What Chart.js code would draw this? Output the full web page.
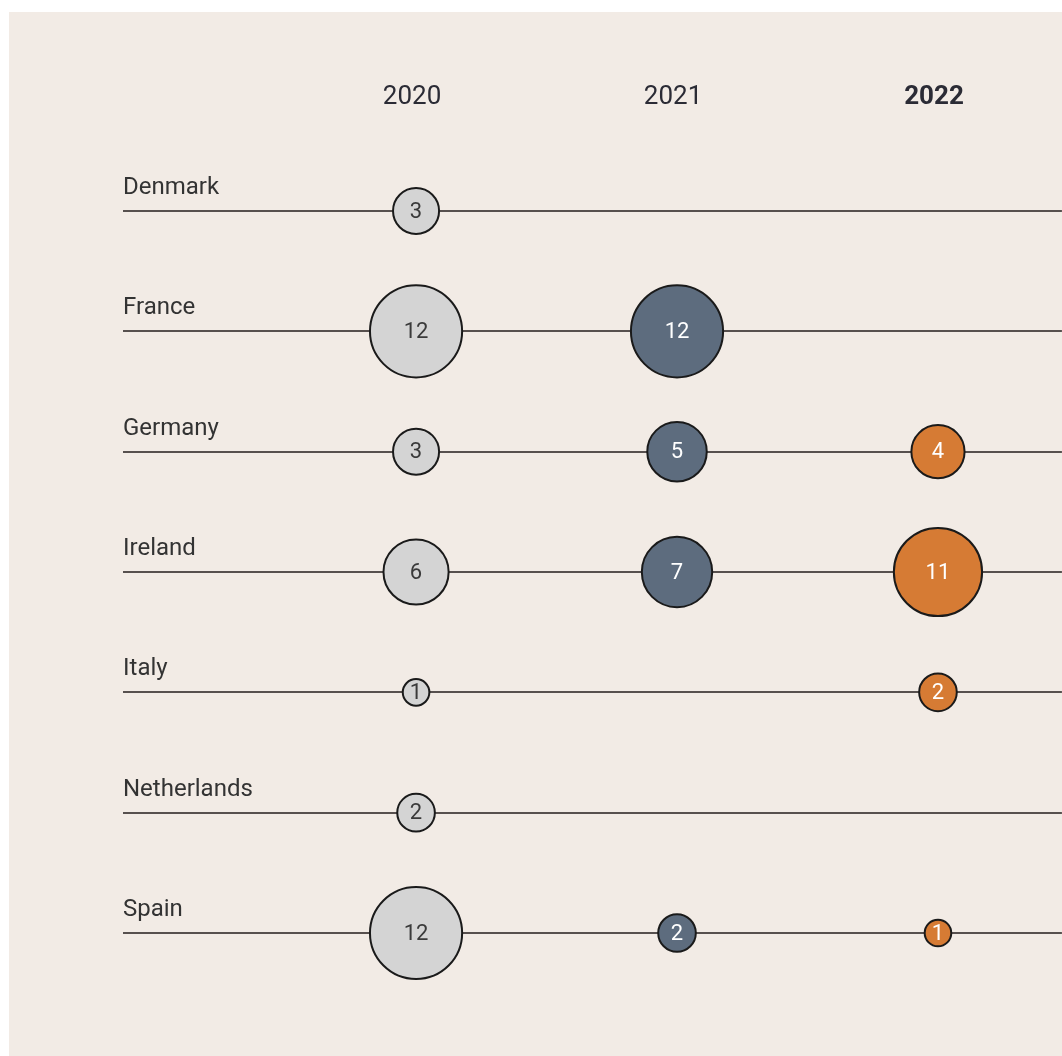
<!DOCTYPE html>
<html>
<head>
<meta charset="utf-8">
<script src="https://cdn.jsdelivr.net/npm/chart.js@4"></script>
<style>
    body { margin: 0; background: #ffffff; overflow: hidden; }
    #wrap { position: absolute; left: 9px; top: 12px; width: 1053px; height: 1044px; background: #f2ebe5; overflow: hidden; }
    #wrap canvas { display: block; }
</style>
</head>
<body>
<div id="wrap"><canvas id="bubbleCanvas" width="1101" height="1044"></canvas></div>
<script>
// 数据
const countries = ['Denmark', 'France', 'Germany', 'Ireland', 'Italy', 'Netherlands', 'Spain'];
const years = [2020, 2021, 2022];
const values2020 = [3, 12, 3, 6, 1, 2, 12];
const values2021 = [null, 12, 5, 7, null, null, 2];
const values2022 = [null, null, 4, 11, 2, null, 1];
const boldYear = 2022;

const fillColors = ['#d4d4d4', '#5d6c7e', '#d67b34'];
const textColors = ['#3a3a3a', '#ffffff', '#ffffff'];

Chart.defaults.font.family = 'Roboto';

function toPoints(year, values) {
    const pts = [];
    values.forEach((v, i) => {
        if (v !== null) pts.push({ x: year, y: countries[i], v: v });
    });
    return pts;
}

// 气泡中的数字
const bubbleLabels = {
    id: 'bubbleLabels',
    afterDatasetsDraw(chart) {
        const ctx = chart.ctx;
        ctx.save();
        ctx.font = '22px Roboto';
        ctx.textAlign = 'center';
        ctx.textBaseline = 'middle';
        chart.data.datasets.forEach((ds, di) => {
            const meta = chart.getDatasetMeta(di);
            meta.data.forEach((el, i) => {
                ctx.fillStyle = textColors[di];
                ctx.fillText(String(ds.data[i].v), el.x, el.y + 1);
            });
        });
        ctx.restore();
    }
};

// 顶部年份标签
const yearLabels = {
    id: 'yearLabels',
    afterDraw(chart) {
        const ctx = chart.ctx;
        const xScale = chart.scales.x;
        ctx.save();
        ctx.textAlign = 'center';
        ctx.textBaseline = 'middle';
        ctx.fillStyle = '#2b2b35';
        years.forEach(year => {
            ctx.font = (year === boldYear ? 'bold ' : '') + '26px Roboto';
            ctx.fillText(String(year), xScale.getPixelForValue(year) - 4, chart.chartArea.top - 114);
        });
        ctx.restore();
    }
};

const allValues = [values2020, values2021, values2022];

const ctx = document.getElementById('bubbleCanvas').getContext('2d');
new Chart(ctx, {
    type: 'bubble',
    data: {
        datasets: years.map((year, i) => ({
            label: String(year),
            data: toPoints(year, allValues[i]),
            backgroundColor: fillColors[i],
            borderColor: '#1a1a1a',
            borderWidth: 2,
            radius: c => 13.3 * Math.sqrt(c.raw.v),
            clip: false
        }))
    },
    options: {
        responsive: false,
        animation: false,
        events: [],
        // 右侧超出部分被外层 div 裁掉
        layout: {
            padding: { top: 199, right: 48, bottom: 123, left: 114 }
        },
        plugins: {
            legend: { display: false },
            tooltip: { enabled: false }
        },
        scales: {
            x: {
                type: 'linear',
                display: false,
                min: 2018.877,
                max: 2022.475
            },
            y: {
                type: 'category',
                labels: countries,
                offset: false,
                grid: { color: '#57504e', lineWidth: 2, drawTicks: false },
                border: { display: false },
                ticks: {
                    mirror: true,
                    padding: 0,
                    labelOffset: -23,
                    color: '#333333',
                    font: { size: 24 }
                }
            }
        }
    },
    plugins: [bubbleLabels, yearLabels]
});
</script>
</body>
</html>
